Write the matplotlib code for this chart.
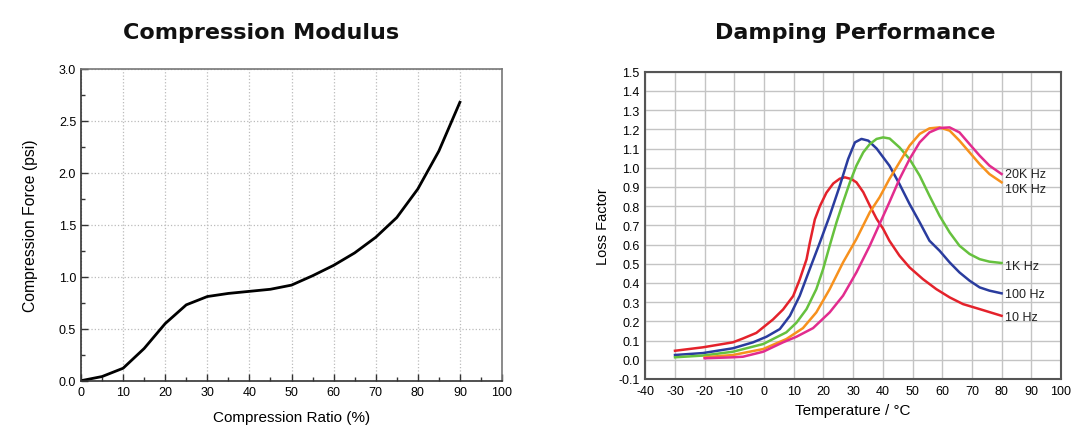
import matplotlib
matplotlib.use("Agg")
import matplotlib.pyplot as plt
from matplotlib.ticker import MultipleLocator, FormatStrFormatter

# compression modulus curve
ratio = [0, 5, 10, 15, 20, 25, 30, 35, 40, 45, 50, 55, 60, 65, 70, 75, 80, 85, 90]
force = [0.0, 0.04, 0.12, 0.31, 0.55, 0.73, 0.81, 0.84, 0.86, 0.88, 0.92, 1.01,
         1.11, 1.23, 1.38, 1.57, 1.845, 2.21, 2.68]

# damping curves (temperature, loss factor)
t_10 = [-30, -20.6, -10.5, -7.1, -2.6, 3.0, 6.4, 9.8, 12.0, 14.3, 15.4, 17.1, 18.8,
        21.0, 23.3, 25.5, 27.2, 29.4, 31.1, 33.4, 35.6, 37.9, 40.1, 42.2, 45.6,
        49.0, 53.5, 58.0, 62.5, 67.0, 72.6, 80]
lf_10 = [0.047, 0.065, 0.091, 0.111, 0.14, 0.21, 0.262, 0.332, 0.418, 0.523, 0.609,
         0.731, 0.80, 0.87, 0.918, 0.943, 0.95, 0.941, 0.924, 0.873, 0.803, 0.734,
         0.682, 0.62, 0.542, 0.481, 0.42, 0.368, 0.325, 0.29, 0.264, 0.229]

t_100 = [-30, -20.6, -10.5, -3.7, 0.8, 5.3, 8.7, 12.0, 15.4, 18.8, 22.1, 25.5, 28.3,
         30.6, 32.8, 35.1, 37.9, 42.2, 45.6, 49.0, 52.4, 55.7, 59.1, 62.5, 65.8,
         69.2, 72.6, 75.9, 80]
lf_100 = [0.025, 0.035, 0.06, 0.091, 0.12, 0.16, 0.229, 0.333, 0.473, 0.611, 0.75,
          0.906, 1.045, 1.132, 1.15, 1.141, 1.1, 1.011, 0.915, 0.811, 0.716, 0.62,
          0.568, 0.507, 0.455, 0.412, 0.377, 0.36, 0.346]

t_1k = [-30, -20.6, -10.5, -0.3, 3.0, 7.5, 10.9, 14.3, 17.6, 19.9, 22.1, 24.4, 26.6,
        28.9, 31.1, 33.4, 35.6, 37.9, 40.1, 42.3, 45.6, 49.0, 52.4, 55.7, 59.1,
        62.5, 65.8, 69.2, 72.6, 75.9, 80]
lf_1k = [0.013, 0.022, 0.042, 0.082, 0.108, 0.143, 0.193, 0.264, 0.368, 0.473,
         0.594, 0.716, 0.82, 0.924, 1.011, 1.08, 1.123, 1.15, 1.158, 1.152, 1.106,
         1.045, 0.959, 0.854, 0.75, 0.663, 0.594, 0.551, 0.524, 0.511, 0.504]

t_10k = [-20, -10.5, -0.3, 7.5, 13.1, 17.6, 22.1, 26.6, 31.1, 35.6, 38.9, 42.2, 45.6,
         49.0, 52.4, 55.7, 59.1, 62.5, 65.8, 69.2, 72.6, 75.9, 80]
lf_10k = [0.013, 0.025, 0.056, 0.108, 0.165, 0.247, 0.368, 0.507, 0.629, 0.768,
          0.846, 0.941, 1.028, 1.115, 1.176, 1.205, 1.21, 1.193, 1.141, 1.08, 1.019,
          0.967, 0.924]

t_20k = [-20, -10.5, -7.1, -0.3, 6.4, 10.9, 16.5, 22.1, 26.6, 31.1, 35.6, 38.9, 42.2,
         45.6, 49.0, 52.4, 55.7, 59.1, 62.5, 65.8, 69.2, 72.6, 75.9, 80]
lf_20k = [0.008, 0.013, 0.016, 0.042, 0.091, 0.12, 0.165, 0.247, 0.334, 0.455, 0.594,
          0.707, 0.82, 0.941, 1.045, 1.132, 1.184, 1.207, 1.21, 1.184, 1.123, 1.063,
          1.011, 0.967]

curve_labels = ["20K Hz", "10K Hz", "1K Hz", "100 Hz", "10 Hz"]
label_y = [0.967, 0.889, 0.488, 0.342, 0.223]

plt.rcParams["font.family"] = ["Liberation Sans", "DejaVu Sans"]
plt.rcParams["axes.unicode_minus"] = False

fig = plt.figure(figsize=(10.87, 4.39), dpi=100)

# ---- left: compression modulus ----
ax1 = fig.add_axes([81 / 1087, 57.3 / 439, 421 / 1087, 311.7 / 439])
ax1.plot(ratio, force, color="black", lw=2)
ax1.set_xlim(0, 100)
ax1.set_ylim(0, 3)
ax1.xaxis.set_major_locator(MultipleLocator(10))
ax1.xaxis.set_minor_locator(MultipleLocator(5))
ax1.yaxis.set_major_locator(MultipleLocator(0.5))
ax1.yaxis.set_minor_locator(MultipleLocator(0.25))
ax1.yaxis.set_major_formatter(FormatStrFormatter("%.1f"))
ax1.tick_params(which="major", direction="in", length=5, width=1, labelsize=9,
                color="#333333")
ax1.tick_params(which="minor", direction="in", length=3, width=1, color="#333333")
ax1.grid(True, which="major", linestyle=":", color="#bbbbbb", lw=0.9)
for name, s in ax1.spines.items():
    s.set_color("#333333" if name in ("left", "bottom") else "#777777")
    s.set_linewidth(1.2)
ax1.set_xlabel("Compression Ratio (%)", fontsize=11, labelpad=9)
ax1.set_ylabel("Compression Force (psi)", fontsize=11.3, labelpad=15)

# ---- right: damping performance ----
ax2 = fig.add_axes([645.3 / 1087, 59 / 439, 415.7 / 1087, 307.3 / 439])
series = [(t_10, lf_10, "#e4222b"), (t_100, lf_100, "#2a3c9e"),
          (t_1k, lf_1k, "#66c13e"), (t_10k, lf_10k, "#f7911d"),
          (t_20k, lf_20k, "#e22c8e")]
for t, lf, c in series:
    ax2.plot(t, lf, color=c, lw=1.8, solid_joinstyle="round")
for lab, y in zip(curve_labels, label_y):
    ax2.text(81, y, lab, fontsize=9, va="center", ha="left", color="#222222")
ax2.set_xlim(-40, 100)
ax2.set_ylim(-0.1, 1.5)
ax2.xaxis.set_major_locator(MultipleLocator(10))
ax2.yaxis.set_major_locator(MultipleLocator(0.1))
ax2.yaxis.set_major_formatter(FormatStrFormatter("%.1f"))
ax2.tick_params(length=0, labelsize=9, pad=4)
ax2.grid(True, color="#c4c4c4", lw=1.0)
ax2.set_axisbelow(True)
for s in ax2.spines.values():
    s.set_color("#555555")
    s.set_linewidth(1.5)
ax2.set_xlabel("Temperature / °C", fontsize=11, labelpad=5)
ax2.set_ylabel("Loss Factor", fontsize=10.5, labelpad=6)

# titles
fig.text(261 / 1087, 1 - 33 / 439, "Compression Modulus", ha="center", va="center",
         fontsize=16, fontweight="bold", family="DejaVu Sans", color="#111111")
fig.text(855 / 1087, 1 - 33 / 439, "Damping Performance", ha="center", va="center",
         fontsize=16, fontweight="bold", family="DejaVu Sans", color="#111111")

fig.savefig("out.png", dpi=100)
